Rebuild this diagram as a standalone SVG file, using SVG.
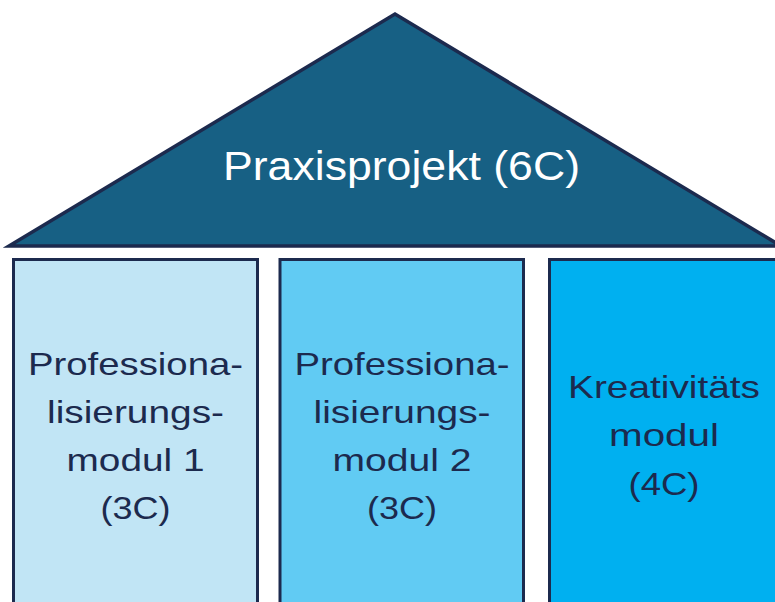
<svg xmlns="http://www.w3.org/2000/svg" width="775" height="602" viewBox="0 0 775 602">
<style>
.box{stroke:#1c2a4e;stroke-width:3}
.lbl{font-family:"Liberation Sans",Arial,sans-serif;font-size:32px;fill:#1c2a4e;text-anchor:middle}
.roof{font-family:"Liberation Sans",Arial,sans-serif;font-size:41px;fill:#ffffff;text-anchor:middle}
</style>
<rect width="775" height="602" fill="#ffffff"/>
<g id="roof">
<polygon points="9,246 395,14 781,246" fill="#176084" stroke="#1c2a4e" stroke-width="3.5" stroke-linejoin="miter"/>
<text class="roof" x="401.5" y="180" textLength="357" lengthAdjust="spacingAndGlyphs">Praxisprojekt (6C)</text>
</g>
<g id="box1">
<rect class="box" x="13.5" y="259.5" width="244" height="360" fill="#c1e5f5"/>
<text class="lbl" x="135.5" y="375" textLength="215" lengthAdjust="spacingAndGlyphs">Professiona-</text>
<text class="lbl" x="135.5" y="423" textLength="177" lengthAdjust="spacingAndGlyphs">lisierungs-</text>
<text class="lbl" x="135.5" y="471" textLength="138" lengthAdjust="spacingAndGlyphs">modul 1</text>
<text class="lbl" x="135.5" y="519" textLength="70" lengthAdjust="spacingAndGlyphs">(3C)</text>
</g>
<g id="box2">
<rect class="box" x="280" y="259.5" width="243.5" height="360" fill="#61cbf3"/>
<text class="lbl" x="402" y="375" textLength="215" lengthAdjust="spacingAndGlyphs">Professiona-</text>
<text class="lbl" x="402" y="423" textLength="177" lengthAdjust="spacingAndGlyphs">lisierungs-</text>
<text class="lbl" x="402" y="471" textLength="139" lengthAdjust="spacingAndGlyphs">modul 2</text>
<text class="lbl" x="402" y="519" textLength="70" lengthAdjust="spacingAndGlyphs">(3C)</text>
</g>
<g id="box3">
<rect class="box" x="549.5" y="259.5" width="244" height="360" fill="#00b0f0"/>
<text class="lbl" x="664" y="398" textLength="192" lengthAdjust="spacingAndGlyphs">Kreativitäts</text>
<text class="lbl" x="664" y="446" textLength="110" lengthAdjust="spacingAndGlyphs">modul</text>
<text class="lbl" x="664" y="495" textLength="71" lengthAdjust="spacingAndGlyphs">(4C)</text>
</g>
<g id="connectors"/>
</svg>
